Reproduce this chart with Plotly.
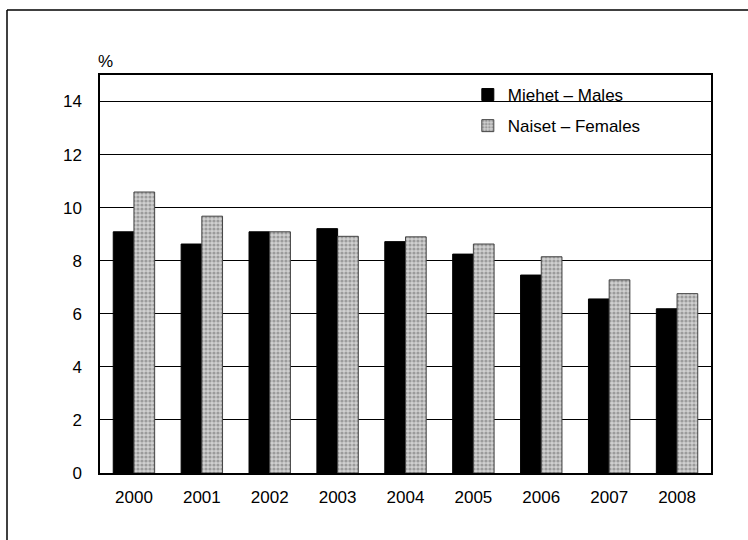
import plotly.graph_objects as go

years = ["2000", "2001", "2002", "2003", "2004", "2005", "2006", "2007", "2008"]
males = [9.09, 8.63, 9.09, 9.21, 8.72, 8.25, 7.46, 6.56, 6.19]
females = [10.59, 9.68, 9.09, 8.92, 8.9, 8.63, 8.15, 7.28, 6.76]
y_ticks = [0, 2, 4, 6, 8, 10, 12, 14]

fig = go.Figure()
fig.add_trace(go.Bar(
    x=years, y=males, name="Miehet – Males",
    marker=dict(color="#000000", line=dict(color="#000000", width=1)),
    legendgroup="m",
))
fig.add_trace(go.Bar(
    x=years, y=females, name="Naiset – Females",
    marker=dict(
        color="#c8c8c8",
        line=dict(color="#444444", width=1),
        pattern=dict(shape=".", fgcolor="#666666", bgcolor="#d0d0d0", size=4, solidity=0.5),
    ),
    legendgroup="f",
))

font = "Liberation Sans, Arial, sans-serif"
fig.update_layout(
    width=748, height=540,
    margin=dict(l=100, r=37, t=75, b=67),
    paper_bgcolor="white", plot_bgcolor="white",
    barmode="group", bargap=0.39, bargroupgap=0.0,
    font=dict(family=font, size=17, color="#000"),
    showlegend=True,
    legend=dict(
        x=0.602, y=0.995, xanchor="left", yanchor="top",
        bgcolor="rgba(0,0,0,0)", borderwidth=0,
        font=dict(size=17, family=font),
        traceorder="grouped", tracegroupgap=6,
        itemwidth=30,
    ),
    xaxis=dict(
        type="category", showline=True, linecolor="#000", linewidth=1.5,
        mirror=True, ticks="", tickfont=dict(size=17), showgrid=False,
        ticklabelstandoff=8,
    ),
    yaxis=dict(
        range=[0, 15], tickvals=y_ticks, showline=True, linecolor="#000",
        linewidth=1.5, mirror=True, showgrid=True, gridcolor="#000", gridwidth=1,
        ticks="", tickfont=dict(size=17), zeroline=False, ticklabelstandoff=13,
    ),
    annotations=[dict(
        text="%", xref="paper", yref="paper", x=-0.006, y=1.005,
        xanchor="left", yanchor="bottom", showarrow=False, font=dict(size=17),
    )],
    shapes=[
        dict(type="line", xref="paper", yref="paper",
             x0=-93/611, x1=648/611, y0=(473-10)/398, y1=(473-10)/398,
             line=dict(color="#000", width=1.5)),
        dict(type="line", xref="paper", yref="paper",
             x0=-93/611, x1=-93/611, y0=(473-10)/398, y1=-67/398,
             line=dict(color="#000", width=1.5)),
    ],
)

fig.write_html("out.html", config={"displayModeBar": False},
               post_script="document.body.style.margin='0';")
